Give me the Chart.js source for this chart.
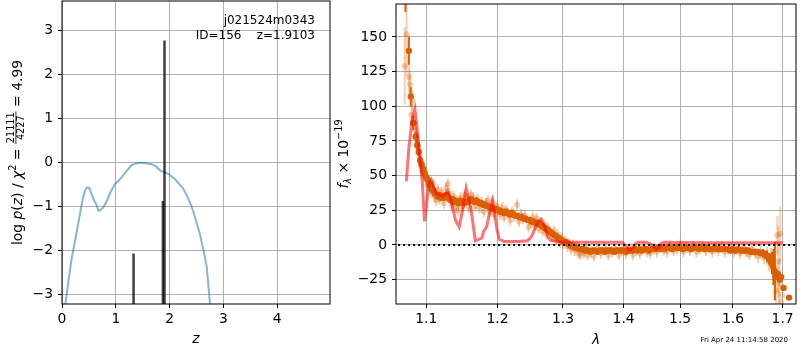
<!DOCTYPE html>
<html><head><meta charset="utf-8">
<script src="https://cdn.jsdelivr.net/npm/chart.js@4.4.0/dist/chart.umd.min.js"></script>
<style>
html,body{margin:0;padding:0;background:#fff;overflow:hidden;}
#wrap{position:relative;width:800px;height:350px;background:#fff;}
#c1{position:absolute;left:0;top:0;}
#c2{position:absolute;left:330px;top:0;}
</style></head><body>
<div id="wrap">
<canvas id="c1" width="340" height="350"></canvas>
<canvas id="c2" width="470" height="350"></canvas>
</div>
<script>
// ---------- left panel data ----------
const zGrid = [0.05,0.063,0.12,0.175,0.268,0.33,0.38,0.43,0.466,0.50,0.517,0.55,0.596,0.64,0.678,0.72,0.764,0.80,0.839,0.90,0.982,1.04,1.106,1.20,1.29,1.36,1.447,1.55,1.665,1.75,1.82,1.90,1.974,2.10,2.25,2.33,2.41,2.48,2.56,2.63,2.69,2.75,2.78];
const logPz = [-3.6,-3.22,-2.7,-2.22,-1.61,-1.2,-0.86,-0.64,-0.57,-0.58,-0.61,-0.72,-0.86,-0.96,-1.10,-1.08,-1.03,-0.95,-0.86,-0.68,-0.50,-0.43,-0.34,-0.2,-0.06,-0.03,-0.01,-0.02,-0.04,-0.09,-0.18,-0.22,-0.26,-0.38,-0.59,-0.78,-1.01,-1.28,-1.62,-2.0,-2.38,-3.22,-3.6];
const zPeaks = [1.33, 1.875, 1.905];
const peakLogP = [-2.07, -0.88, 2.77];
const zTicks = [0,1,2,3,4];
const logPTicks = [-3,-2,-1,0,1,2,3];

// ---------- right panel data ----------
const lamHi = [1.0725,1.0770,1.0795,1.0830,1.0860,1.0880,1.0900,1.0920,1.0940,1.0960,1.0980,1.1000,1.1020,1.1040,1.1060,1.1080,1.1100,1.1120,1.1140,1.1160,1.1180,1.1200,1.1220,1.1240,1.1260,1.1280,1.1300,1.1320,1.1340,1.1360,1.1380,1.1400,1.1420,1.1445,1.1470,1.1495,1.1520,1.1545,1.1570,1.1595,1.1620,1.1645,1.1670,1.1695,1.1720,1.1745,1.1770,1.1795,1.1820,1.1845,1.1870,1.1895,1.1920,1.1945,1.1970,1.1995,1.2020,1.2045,1.2070,1.2095,1.2120,1.2150,1.2180,1.2210,1.2240,1.2270,1.2300,1.2330,1.2360,1.2390,1.2420,1.2450,1.2480,1.2510,1.2540,1.2570,1.2600,1.2630,1.2660,1.2690,1.2720,1.2750,1.2780,1.2810,1.2840,1.2870,1.2900,1.2930,1.2960,1.2990,1.3020,1.3050,1.3080,1.3110,1.3140,1.3170,1.3200,1.3230,1.3260,1.3290,1.3320,1.3360,1.3400,1.3440,1.3480,1.3520,1.3560,1.3600,1.3640,1.3680,1.3720,1.3760,1.3800,1.3840,1.3880,1.3920,1.3960,1.4000,1.4040,1.4080,1.4120,1.4160,1.4200,1.4240,1.4280,1.4320,1.4360,1.4400,1.4440,1.4480,1.4520,1.4560,1.4600,1.4640,1.4680,1.4720,1.4760,1.4800,1.4850,1.4900,1.4950,1.5000,1.5050,1.5100,1.5150,1.5200,1.5250,1.5300,1.5350,1.5400,1.5450,1.5500,1.5550,1.5600,1.5650,1.5700,1.5750,1.5800,1.5850,1.5900,1.5950,1.6000,1.6050,1.6100,1.6150,1.6200,1.6250,1.6300,1.6350,1.6400,1.6450,1.6500,1.6550,1.6600,1.6640,1.6680,1.6720,1.6750,1.6780,1.6810,1.6840,1.6870,1.6900,1.6940,1.6970,1.7020,1.7134];
const fluxHi = [182,140,107,88,78,72,67,61,58,55,52,49,47,44,43,40,39,37,36,35,36,34,35,34,35,36,34,33,32,33,31,32,31,30,32,31,30,31,31,32,33,32,31,32,31,30,30,29,29,28,28,27,27,26,26,25,25,24,24,23,24,23,22,23,22,21,21,20,20,19,19,18,18,17,17,16,16,15,14,13,12,11,10,9,8,7,6,5,4,3,2,2,1,0,-1,-1,-2,-2,-3,-3,-3,-4,-4,-5,-4,-4,-5,-4,-4,-5,-4,-4,-4,-5,-4,-4,-4,-4,-5,-4,-4,-4,-3,-4,-3,-4,-3,-3,-4,-3,-3,-3,-2,-3,-2,-3,-2,-2,-3,-2,-2,-2,-3,-2,-2,-3,-2,-2,-3,-2,-3,-2,-3,-3,-2,-3,-3,-3,-3,-3,-4,-3,-4,-3,-4,-4,-4,-4,-5,-5,-5,-5,-6,-6,-7,-8,-10,-11,-13,-16,-19,-23,-21,-25,-23,-31,-38];
const errHi = [14,10,7,5,4,4,3,3,3,2,2,2,2,2,2,2,2,2,2,2,2,2,2,2,2,2,2,2,2,2,2,2,2,2,2,2,2,2,2,2,2,2,2,2,2,2,2,2,2,2,2,2,2,2,2,2,2,2,2,2,2,2,2,2,2,2,2,2,2,2,2,2,2,2,2,2,2,2,2,2,2,2,2,2,2,2,2,2,2,2,2,2,2,2,2,2,2,2,2,2,2,2,2,2,2,2,2,2,2,2,2,2,2,2,2,2,2,2,2,2,2,2,2,2,2,2,2,2,2,2,2,2,2,2,2,2,2,2,2,2,2,2,2,2,2,2,2,2,2,2,2,2,2,2,2,2,2,2,2,2,2,2,2,2,2,2,2,2,2,2,2,2,2,3,3,4,4,5,8,13,21];
const lamLo = [1.0715,1.0740,1.0770,1.0785,1.0805,1.0820,1.0845,1.0865,1.0890,1.0910,1.0930,1.0950,1.0975,1.0995,1.1015,1.1035,1.1055,1.1075,1.1095,1.1115,1.1135,1.1160,1.1180,1.1210,1.1240,1.1270,1.1295,1.1320,1.1350,1.1380,1.1410,1.1440,1.1470,1.1500,1.1530,1.1560,1.1590,1.1620,1.1650,1.1680,1.1710,1.1740,1.1770,1.1800,1.1830,1.1860,1.1890,1.1920,1.1950,1.1980,1.2010,1.2040,1.2070,1.2100,1.2130,1.2160,1.2190,1.2220,1.2250,1.2290,1.2320,1.2350,1.2380,1.2410,1.2465,1.2500,1.2530,1.2560,1.2590,1.2620,1.2650,1.2680,1.2710,1.2740,1.2770,1.2800,1.2830,1.2860,1.2890,1.2920,1.2950,1.2980,1.3010,1.3040,1.3070,1.3100,1.3130,1.3160,1.3190,1.3220,1.3250,1.3280,1.3310,1.3340,1.3370,1.3400,1.3450,1.3500,1.3560,1.3620,1.3680,1.3740,1.3800,1.3860,1.3920,1.3980,1.4040,1.4100,1.4160,1.4220,1.4280,1.4340,1.4400,1.4460,1.4520,1.4580,1.4640,1.4700,1.4760,1.4820,1.4880,1.4940,1.5000,1.5060,1.5120,1.5180,1.5240,1.5300,1.5360,1.5420,1.5480,1.5540,1.5600,1.5660,1.5720,1.5780,1.5840,1.5900,1.5960,1.6020,1.6080,1.6140,1.6200,1.6260,1.6320,1.6380,1.6440,1.6500,1.6560,1.6620,1.6680,1.6720,1.6760,1.6800,1.6840,1.6870,1.6890,1.6910,1.6935,1.6950,1.6965,1.6990];
const fluxLo = [129,152,121,116,94,104,84,79,70,63,57,53,50,47,43,46,41,38,44,35,32,40,33,38,30,41,44,37,28,35,27,25,34,28,36,33,27,36,34,28,33,27,31,24,30,32,24,31,22,28,26,22,27,20,25,23,18,24,21,29,17,22,19,21,13,16,20,14,19,12,16,10,14,8,12,9,6,10,4,7,2,5,1,3,-1,1,-3,0,-4,-1,-6,-7,-3,-6,-2,-7,-5,-8,-3,-6,-2,-7,-5,-3,-7,-4,-6,-2,-7,-4,-6,-2,-5,-6,-3,-5,-1,-4,-5,-1,-4,-3,0,-5,-2,-4,-1,-5,-3,-1,-4,-2,-5,-2,-4,-1,-5,-3,-2,-5,-3,-6,-2,-5,-7,-3,-6,-8,-5,-9,-7,-13,-10,-15,-22,-33,7,-12,-28,8,-41,-36];
const errLo = [28,30,12,10,8,8,6,6,6,5,5,4,4,4,4,4,4,4,4,4,4,4,4,4,4,4,4,4,4,4,4,4,4,4,4,4,4,4,4,4,4,4,4,4,4,4,4,4,4,4,4,4,4,4,4,4,4,4,4,4,4,4,4,4,4,4,4,4,4,4,4,4,4,4,4,4,4,4,4,4,4,4,4,4,4,4,4,4,4,4,4,4,4,4,4,4,4,4,4,4,4,4,4,4,4,4,4,4,4,4,4,4,4,4,4,4,4,4,4,4,4,4,4,4,4,4,4,4,4,4,4,4,4,4,4,4,4,4,4,4,4,4,4,4,4,4,4,5,5,5,6,6,8,10,14,12,14,26,18,20];
const lamModel = [1.0737,1.0770,1.0815,1.0850,1.0880,1.0911,1.0947,1.0978,1.1000,1.1035,1.1067,1.1100,1.1140,1.1180,1.1220,1.1260,1.1290,1.1335,1.1400,1.1452,1.1500,1.1550,1.1616,1.1680,1.1730,1.1774,1.1800,1.1843,1.1890,1.1930,1.1967,1.1990,1.2026,1.2100,1.2200,1.2300,1.2450,1.2510,1.2570,1.2620,1.2660,1.2720,1.2760,1.2800,1.2900,1.3000,1.3200,1.3500,1.3800,1.3980,1.4040,1.4100,1.4160,1.4200,1.4250,1.4400,1.4500,1.4560,1.4620,1.4670,1.4700,1.5000,1.5500,1.6000,1.6500,1.7000];
const fluxModel = [46,70,91,98,83,66,46,17,26,44,47,42,37,36,35,37,39,33,18,13,25,41,27,3,4,5,10,13,24,32,20,12,4,2.5,2.5,2.5,3,6,12.6,17,18.6,12.6,6,3.5,2.5,2.2,2,2,2,2,-1,-4,-2,1,2,2,0,-3,-2,1,2,1.8,1.5,1.5,1.5,1.5];
const zeroLine = [1.0, 1.8];
const lamTicks = [1.1,1.2,1.3,1.4,1.5,1.6,1.7];
const fluxTicks = [-25,0,25,50,75,100,125,150];

// ---------- helpers ----------
Chart.defaults.font.family = 'DejaVu Sans';
Chart.defaults.color = '#000';
const TICKFONT = {family:'DejaVu Sans', size:13.9};
const minus = v => String(v).replace('-', '\u2212');
const pts = (xs, ys) => xs.map((x,i)=>({x:x, y:ys[i]}));

const frame = {
  id:'frame',
  afterDatasetsDraw(chart){
    const a = chart.chartArea, ctx = chart.ctx;
    ctx.save(); ctx.strokeStyle = '#000'; ctx.lineWidth = 1;
    ctx.strokeRect(a.left, a.top, a.right - a.left, a.bottom - a.top);
    ctx.restore();
  }
};
const errorBars = {
  id:'errorBars',
  beforeDatasetDraw(chart, args){
    const ds = chart.data.datasets[args.index];
    if (!ds.errs) return;
    const xs = chart.scales.x, ys = chart.scales.y, a = chart.chartArea, ctx = chart.ctx;
    ctx.save();
    ctx.beginPath(); ctx.rect(a.left, a.top, a.right - a.left, a.bottom - a.top); ctx.clip();
    ctx.strokeStyle = ds.errColor; ctx.lineWidth = ds.errWidth;
    ds.data.forEach((p, i) => {
      const e = ds.errs[i], px = xs.getPixelForValue(p.x);
      ctx.beginPath();
      ctx.moveTo(px, ys.getPixelForValue(p.y - e));
      ctx.lineTo(px, ys.getPixelForValue(p.y + e));
      ctx.stroke();
    });
    ctx.restore();
  }
};
function richVertical(ctx, parts, bx, cy){
  ctx.save();
  let total = 0;
  parts.forEach(p => {
    ctx.font = p.font;
    if (p.frac) p.w = Math.max(ctx.measureText(p.frac[0]).width, ctx.measureText(p.frac[1]).width) + 2;
    else p.w = ctx.measureText(p.t).width;
    total += p.w;
  });
  ctx.translate(bx, cy);
  ctx.rotate(-Math.PI/2);
  ctx.fillStyle = '#000'; ctx.strokeStyle = '#000';
  ctx.textBaseline = 'alphabetic'; ctx.textAlign = 'left';
  let x = -total/2;
  parts.forEach(p => {
    ctx.font = p.font;
    if (p.frac) {
      const wn = ctx.measureText(p.frac[0]).width, wd = ctx.measureText(p.frac[1]).width;
      ctx.fillText(p.frac[0], x + (p.w - wn)/2, -7.5);
      ctx.fillText(p.frac[1], x + (p.w - wd)/2, 2.5);
      ctx.lineWidth = 0.8;
      ctx.beginPath(); ctx.moveTo(x, -5.6); ctx.lineTo(x + p.w, -5.6); ctx.stroke();
    } else {
      ctx.fillText(p.t, x, p.dy || 0);
    }
    x += p.w;
  });
  ctx.restore();
}
const N = '13.9px "DejaVu Sans"', I = 'italic 13.9px "DejaVu Sans"', S = '9.7px "DejaVu Sans"', SI = 'italic 9.7px "DejaVu Sans"';

const leftText = {
  id:'leftText',
  afterDraw(chart){
    const ctx = chart.ctx, a = chart.chartArea;
    ctx.save();
    ctx.fillStyle = '#000';
    ctx.font = '12px "DejaVu Sans"'; ctx.textAlign = 'right'; ctx.textBaseline = 'alphabetic';
    ctx.fillText('j021524m0343', 315, 24);
    ctx.fillText('ID=156    z=1.9103', 315, 38.5);
    ctx.font = I; ctx.textAlign = 'center';
    ctx.fillText('z', (a.left + a.right)/2, 343);
    ctx.restore();
    richVertical(ctx, [
      {t:'log ', font:N}, {t:'p', font:I}, {t:'(', font:N}, {t:'z', font:I}, {t:') / ', font:N},
      {t:'\u03c7', font:I}, {t:'2', font:S, dy:-6}, {t:' = ', font:N},
      {frac:['21111','4227'], font:S}, {t:' = 4.99', font:N}
    ], 21.5, (a.top + a.bottom)/2);
  }
};
const rightText = {
  id:'rightText',
  afterDraw(chart){
    const ctx = chart.ctx, a = chart.chartArea;
    ctx.save();
    ctx.fillStyle = '#000';
    ctx.font = I; ctx.textAlign = 'center'; ctx.textBaseline = 'alphabetic';
    ctx.fillText('\u03bb', (a.left + a.right)/2, 344);
    ctx.font = '7px "DejaVu Sans"'; ctx.textAlign = 'right';
    ctx.fillText('Fri Apr 24 11:14:58 2020', 458, 342);
    ctx.restore();
    richVertical(ctx, [
      {t:'f', font:I}, {t:'\u03bb', font:SI, dy:3}, {t:' \u00d7 10', font:N}, {t:'\u221219', font:S, dy:-6}
    ], 18, (a.top + a.bottom)/2);
  }
};

function axis(min, max, tickVals, fit, isX, fmt, type){
  return {
    type: type || 'linear', min:min, max:max,
    afterBuildTicks: s => { s.ticks = tickVals.map(v => ({value:v})); },
    afterFit: s => {
      if (isX) s.height = fit; else s.width = fit;
      s.paddingTop = 0; s.paddingBottom = 0; s.paddingLeft = 0; s.paddingRight = 0;
    },
    grid: {color:'#b0b0b0', lineWidth:1, tickColor:'#000', tickLength:4, tickWidth:1, drawTicks:true},
    border: {display:false},
    ticks: {color:'#000', font:TICKFONT, padding: isX ? 3 : 5, maxRotation:0, autoSkip:false, callback: v => fmt(v)}
  };
}

// ---------- left chart ----------
const peakSets = zPeaks.map((z, i) => ({
  type:'line', data:[{x:z, y:-10}, {x:z, y:peakLogP[i]}],
  borderColor:'rgba(0,0,0,0.75)', borderWidth:2.5, pointRadius:0, clip:0, order:0, tension:0
}));
new Chart(document.getElementById('c1'), {
  type:'line',
  data:{ datasets:[
    ...peakSets,
    {data:pts(zGrid, logPz), borderColor:'rgba(31,119,180,0.55)', borderWidth:2, pointRadius:0, clip:0, order:1, tension:0}
  ]},
  options:{
    responsive:false, animation:false, events:[],
    layout:{padding:{left:0, right:10, top:1, bottom:0}},
    plugins:{legend:{display:false}, tooltip:{enabled:false}},
    scales:{
      x: axis(0, 4.98, zTicks, 46, true, v => String(v)),
      y: axis(-3.22, 3.67, logPTicks, 62, false, v => minus(v))
    }
  },
  plugins:[frame, leftText]
});

// ---------- right chart ----------
const DARK = 'rgb(217,96,0)';
new Chart(document.getElementById('c2'), {
  type:'scatter',
  data:{ datasets:[
    {type:'line', data:[{x:zeroLine[0], y:0}, {x:zeroLine[1], y:0}], borderColor:'#000', borderWidth:2, borderDash:[2,3], pointRadius:0, clip:0, order:0},
    {type:'line', data:pts(lamModel, fluxModel), borderColor:'rgba(255,0,0,0.55)', borderWidth:3, pointRadius:0, clip:0, order:1, tension:0},
    {data:pts(lamHi, fluxHi), errs:errHi, errColor:DARK, errWidth:2, backgroundColor:DARK, borderWidth:0, pointRadius:3.2, clip:0, order:2},
    {data:pts(lamLo, fluxLo), errs:errLo, errColor:'rgba(217,96,0,0.3)', errWidth:2, backgroundColor:'rgba(217,96,0,0.3)', borderWidth:0, pointRadius:3, clip:0, order:3}
  ]},
  options:{
    responsive:false, animation:false, events:[],
    layout:{padding:{left:0, right:1, top:1, bottom:0}},
    plugins:{legend:{display:false}, tooltip:{enabled:false}},
    scales:{
      x: axis(1.0602, 1.728, lamTicks, 46, true, v => Number(v).toFixed(1), 'logarithmic'),
      y: axis(-42.6, 173.8, fluxTicks, 66, false, v => minus(v))
    }
  },
  plugins:[errorBars, frame, rightText]
});
</script>
</body></html>
